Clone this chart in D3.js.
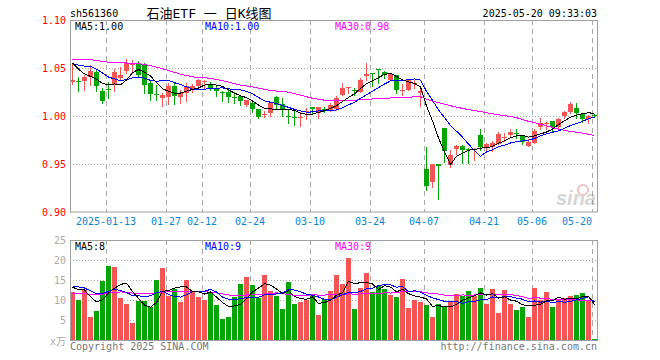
<!DOCTYPE html>
<html>
<head>
<meta charset="utf-8">
<script src="https://cdn.jsdelivr.net/npm/d3@7"></script>
<style>
body { margin: 0; background: #fff; }
svg text { font-family: "DejaVu Sans Mono", "Noto Sans CJK SC", monospace; font-size: 10px; }
</style>
</head>
<body>
<svg id="chart"></svg>
<script>
// Trading days shown (2025)
const dates = [
  '2025-01-03','2025-01-06','2025-01-07','2025-01-08','2025-01-09','2025-01-10','2025-01-13','2025-01-14',
  '2025-01-15','2025-01-16','2025-01-17','2025-01-20','2025-01-21','2025-01-22','2025-01-23','2025-01-24',
  '2025-01-27','2025-02-05','2025-02-06','2025-02-07','2025-02-10','2025-02-11','2025-02-12','2025-02-13',
  '2025-02-14','2025-02-17','2025-02-18','2025-02-19','2025-02-20','2025-02-21','2025-02-24','2025-02-25',
  '2025-02-26','2025-02-27','2025-02-28','2025-03-03','2025-03-04','2025-03-05','2025-03-06','2025-03-07',
  '2025-03-10','2025-03-11','2025-03-12','2025-03-13','2025-03-14','2025-03-17','2025-03-18','2025-03-19',
  '2025-03-20','2025-03-21','2025-03-24','2025-03-25','2025-03-26','2025-03-27','2025-03-28','2025-03-31',
  '2025-04-01','2025-04-02','2025-04-03','2025-04-07','2025-04-08','2025-04-09','2025-04-10','2025-04-11',
  '2025-04-14','2025-04-15','2025-04-16','2025-04-17','2025-04-18','2025-04-21','2025-04-22','2025-04-23',
  '2025-04-24','2025-04-25','2025-04-28','2025-04-29','2025-04-30','2025-05-06','2025-05-07','2025-05-08',
  '2025-05-09','2025-05-12','2025-05-13','2025-05-14','2025-05-15','2025-05-16','2025-05-19','2025-05-20'
];

const open = [
  1.035, 1.036, 1.036, 1.041, 1.046, 1.026, 1.028, 1.033, 1.040, 1.0465,
  1.053, 1.054, 1.0535, 1.034, 1.0225, 1.0187, 1.020, 1.0316, 1.020, 1.0237,
  1.0268, 1.0317, 1.036, 1.0334, 1.028, 1.0255, 1.025, 1.0199, 1.0206, 1.011,
  1.014, 1.0068, 1.002, 1.0031, 1.0203, 1.0128, 1.0005, 0.9988, 0.998, 1.0045,
  1.0095, 1.0032, 1.0068, 1.006, 1.0068, 1.0223, 1.030, 1.0267, 1.0252, 1.0413,
  1.0443, 1.0492, 1.0463, 1.0375, 1.043, 1.0268, 1.027, 1.0345, 1.0242, 0.945,
  0.931, 0.9498, 0.987, 0.9493, 0.9657, 0.9692, 0.966, 0.9655, 0.9797, 0.9662,
  0.968, 0.971, 0.978, 0.9802, 0.9826, 0.9792, 0.969, 0.9723, 0.989, 0.9922,
  0.9943, 0.9887, 0.9995, 1.004, 1.0088, 1.0019, 0.9964, 1.0012
];
const high = [
  1.055, 1.041, 1.043, 1.053, 1.048, 1.029, 1.035, 1.049, 1.051, 1.059,
  1.058, 1.057, 1.055, 1.036, 1.032, 1.024, 1.0345, 1.034, 1.027, 1.0344,
  1.033, 1.039, 1.038, 1.0355, 1.031, 1.026, 1.029, 1.0245, 1.0206, 1.0165,
  1.0145, 1.007, 1.005, 1.015, 1.0205, 1.0188, 1.0075, 1.007, 1.004, 1.0085,
  1.0096, 1.0096, 1.0095, 1.0135, 1.0205, 1.0345, 1.0302, 1.029, 1.0395, 1.0551,
  1.0446, 1.0493, 1.0465, 1.045, 1.043, 1.033, 1.039, 1.037, 1.031, 0.968,
  0.9505, 0.9502, 0.988, 0.9643, 0.970, 0.9694, 0.9662, 0.9668, 0.986, 0.972,
  0.9738, 0.9832, 0.9825, 0.9867, 0.986, 0.9795, 0.976, 0.9867, 0.9975, 0.9937,
  0.9945, 0.9983, 1.0052, 1.0141, 1.0134, 1.0035, 1.0007, 1.0017
];
const low = [
  1.033, 1.026, 1.027, 1.032, 1.026, 1.014, 1.019, 1.026, 1.038, 1.045,
  1.045, 1.041, 1.024, 1.017, 1.017, 1.010, 1.013, 1.013, 1.0135, 1.0153,
  1.025, 1.029, 1.029, 1.027, 1.0206, 1.0154, 1.0145, 1.0137, 1.011, 1.010,
  1.0037, 0.9976, 0.999, 1.0004, 1.007, 0.9995, 0.9928, 0.9903, 0.9895, 0.9969,
  1.002, 0.9975, 1.004, 1.005, 1.006, 1.0214, 1.024, 1.0223, 1.0245, 1.038,
  1.031, 1.0345, 1.0398, 1.037, 1.024, 1.0222, 1.027, 1.0293, 1.010, 0.923,
  0.926, 0.914, 0.9517, 0.9465, 0.9608, 0.951, 0.951, 0.9545, 0.965, 0.9635,
  0.9633, 0.9706, 0.9738, 0.978, 0.9773, 0.9713, 0.9685, 0.972, 0.986, 0.986,
  0.9843, 0.988, 0.9983, 1.0035, 0.9976, 0.9937, 0.9923, 0.9993
];
const close = [
  1.038, 1.035, 1.041, 1.047, 1.031, 1.016, 1.027, 1.046, 1.043, 1.055,
  1.055, 1.043, 1.032, 1.023, 1.022, 1.0216, 1.031, 1.021, 1.024, 1.0313,
  1.0313, 1.038, 1.0365, 1.029, 1.0258, 1.025, 1.0197, 1.0195, 1.0154, 1.0163,
  1.0071, 0.9985, 1.0023, 1.0135, 1.011, 1.0068, 1.000, 0.9985, 0.9986, 1.005,
  1.0076, 1.0095, 1.0066, 1.011, 1.019, 1.0294, 1.0302, 1.0264, 1.038, 1.0441,
  1.0441, 1.0476, 1.043, 1.0434, 1.0275, 1.027, 1.037, 1.0347, 1.026, 0.9267,
  0.9503, 0.948, 0.9633, 0.9595, 0.969, 0.965, 0.9656, 0.9658, 0.9675, 0.971,
  0.9718, 0.9817, 0.9783, 0.9831, 0.9824, 0.9734, 0.9732, 0.9841, 0.9932, 0.9925,
  0.9887, 0.9967, 1.004, 1.0125, 1.003, 0.9967, 1.0005, 1.0007
];
// volume, in 万 (10k) lots
const volume = [
  12.1, 10.0, 12.5, 5.8, 7.25, 14.75, 18.5, 18.3, 10.6, 9.0,
  4.3, 9.8, 9.75, 8.2, 15.0, 18.0, 11.0, 12.7, 9.6, 15.0,
  12.1, 10.8, 10.0, 12.1, 8.75, 5.25, 5.75, 10.75, 14.0, 15.75,
  13.75, 10.6, 16.25, 12.25, 11.0, 7.75, 14.5, 9.0, 9.5, 10.0,
  11.0, 6.25, 10.25, 12.25, 16.25, 14.0, 20.5, 7.75, 13.0, 16.75,
  12.0, 13.5, 12.7, 11.25, 10.75, 15.25, 8.0, 10.0, 9.5, 8.75,
  5.75, 9.0, 8.5, 9.5, 11.5, 11.0, 12.25, 11.0, 13.0, 9.0,
  12.75, 6.75, 12.5, 9.0, 7.5, 8.25, 5.75, 13.0, 10.0, 12.0,
  8.25, 10.25, 10.5, 11.0, 11.25, 11.75, 10.0, 0.25
];
// the 29 sessions before the window, only needed so the moving averages start where they do
const prevCloses = [
  1.044, 1.046, 1.047, 1.047, 1.050, 1.052, 1.054, 1.056, 1.059, 1.058,
  1.060, 1.061, 1.060, 1.062, 1.078, 1.082, 1.080, 1.078, 1.076, 1.075,
  1.051, 1.050, 1.050, 1.059, 1.058, 1.068, 1.066, 1.060, 1.045
];
const prevVolumes = [
  9.5, 11.0, 10.0, 12.5, 9.0, 10.5, 11.5, 8.5, 10.0, 12.0,
  10.5, 9.5, 11.0, 10.0, 11.5, 9.0, 12.0, 10.5, 11.0, 10.5,
  12.5, 15.0, 13.0, 14.5, 14.0, 13.0, 13.0, 14.3, 13.6
];

const tickDates = ['2025-01-13','2025-01-27','2025-02-12','2025-02-24','2025-03-10',
                   '2025-03-24','2025-04-07','2025-04-21','2025-05-06','2025-05-20'];
const priceTicks = [0.90, 0.95, 1.00, 1.05, 1.10];
const volTicks = [5, 10, 15, 20, 25];

// Colours
const UP = '#f55555';
const DOWN = '#05a505';
const MA_COLORS = {5: '#000', 10: '#00f', 30: '#f0f'};
const FRAME = '#a0a0a0';
const GRID = '#aaa';

// Layout
const W = 660, H = 360;
const LEFT = 70, RIGHT = 597;
const P_TOP = 20, P_BOT = 212;
const V_TOP = 240, V_BOT = 340;

const svg = d3.select('svg#chart').attr('width', W).attr('height', H);

const x = d3.scaleBand().domain(dates).range([LEFT, LEFT + dates.length * 6]);
const bw = x.bandwidth() - 1;       // 5px body, 1px gap
const cx = d => x(d) + bw / 2;

const y = d3.scaleLinear().domain([0.90, 1.10]).range([P_BOT, P_TOP]);
const yv = d3.scaleLinear().domain([0, 25]).range([V_BOT, V_TOP]);

const rows = dates.map((d, i) => ({
    date: d, o: open[i], h: high[i], l: low[i], c: close[i], v: volume[i],
    up: close[i] >= open[i]
}));

function movingAvg(series, prev, n) {
    const all = prev.concat(series);
    return series.map((_, i) => d3.mean(all.slice(prev.length + i - n + 1, prev.length + i + 1)));
}

const periods = [5, 10, 30];
const priceMA = {}, volMA = {};
periods.forEach(n => {
    priceMA[n] = movingAvg(close, prevCloses, n);
    volMA[n] = movingAvg(volume, prevVolumes, n);
});

// ---- grid ----
const grid = svg.append('g');
// horizontal dotted lines
grid.selectAll('line.hp').data(priceTicks.slice(1, -1)).enter().append('line')
    .attr('x1', LEFT).attr('x2', RIGHT)
    .attr('y1', d => Math.round(y(d)) + 0.5).attr('y2', d => Math.round(y(d)) + 0.5)
    .attr('stroke', GRID).attr('stroke-dasharray', '1,2');
grid.selectAll('line.hv').data(volTicks.slice(0, -1)).enter().append('line')
    .attr('x1', LEFT).attr('x2', RIGHT)
    .attr('y1', d => Math.round(yv(d)) + 0.5).attr('y2', d => Math.round(yv(d)) + 0.5)
    .attr('stroke', GRID).attr('stroke-dasharray', '1,2');
// vertical dashed lines, both panels
[[P_TOP, P_BOT], [V_TOP, V_BOT]].forEach(([t, b]) => {
    grid.append('g').selectAll('line').data(tickDates).enter().append('line')
        .attr('x1', d => x(d) + 0.5).attr('x2', d => x(d) + 0.5)
        .attr('y1', t).attr('y2', b)
        .attr('stroke', GRID).attr('stroke-dasharray', '5,4');
});

// ---- candles ----
const candle = svg.append('g').selectAll('g').data(rows).enter().append('g');
candle.append('line')
    .attr('x1', d => cx(d.date)).attr('x2', d => cx(d.date))
    .attr('y1', d => Math.round(y(d.h))).attr('y2', d => Math.round(y(d.l)) + 1)
    .attr('stroke', d => d.up ? UP : DOWN);
candle.append('rect')
    .attr('x', d => x(d.date)).attr('width', bw)
    .attr('y', d => Math.round(y(Math.max(d.o, d.c))))
    .attr('height', d => Math.max(1, Math.round(y(Math.min(d.o, d.c))) - Math.round(y(Math.max(d.o, d.c)))))
    .attr('fill', d => d.up ? UP : DOWN);

// ---- volume bars ----
svg.append('g').selectAll('rect').data(rows).enter().append('rect')
    .attr('x', d => x(d.date)).attr('width', bw)
    .attr('y', d => Math.round(yv(d.v)))
    .attr('height', d => V_BOT - Math.round(yv(d.v)))
    .attr('fill', d => d.up ? UP : DOWN);

// ---- moving average lines ----
const priceLine = d3.line().x((v, i) => cx(dates[i])).y(v => y(v));
const volLine = d3.line().x((v, i) => cx(dates[i])).y(v => yv(v));
periods.slice().reverse().forEach(n => {
    svg.append('path').attr('d', priceLine(priceMA[n]))
        .attr('fill', 'none').attr('stroke', MA_COLORS[n]).attr('stroke-width', 1)
        .attr('shape-rendering', 'crispEdges');
    svg.append('path').attr('d', volLine(volMA[n]))
        .attr('fill', 'none').attr('stroke', MA_COLORS[n]).attr('stroke-width', 1)
        .attr('shape-rendering', 'crispEdges');
});

// ---- frames ----
svg.append('rect').attr('x', LEFT + 0.5).attr('y', P_TOP + 0.5)
    .attr('width', RIGHT - LEFT).attr('height', P_BOT - P_TOP - 0.5)
    .attr('fill', 'none').attr('stroke', FRAME);
svg.append('rect').attr('x', LEFT + 0.5).attr('y', V_TOP + 0.5)
    .attr('width', RIGHT - LEFT).attr('height', V_BOT - V_TOP)
    .attr('fill', 'none').attr('stroke', FRAME);

// ---- axes ----
const fontFix = g => g.attr('font-family', null).attr('font-size', null);

svg.append('g').attr('transform', `translate(${LEFT},0)`)
    .call(d3.axisLeft(y).tickValues(priceTicks).tickFormat(d3.format('.2f')).tickSize(0).tickPadding(4))
    .call(fontFix)
    .call(g => g.select('.domain').remove())
    .selectAll('text').attr('fill', '#f00');

svg.append('g').attr('transform', `translate(${LEFT},0)`)
    .call(d3.axisLeft(yv).tickValues(volTicks).tickSize(0).tickPadding(4))
    .call(fontFix)
    .call(g => g.select('.domain').remove())
    .selectAll('text').attr('fill', '#aaa');

// date labels centred on the grid lines (slot left edge)
const xLab = x.copy().range([LEFT - 3, LEFT - 3 + dates.length * 6]);
const xAxisG = svg.append('g').attr('transform', `translate(0,${P_BOT + 6})`)
    .call(d3.axisBottom(xLab).tickValues(tickDates)
        .tickFormat((d, i) => i === 0 ? d : d.slice(5)).tickSize(0).tickPadding(0))
    .call(fontFix)
    .call(g => g.select('.domain').remove());
xAxisG.selectAll('text').attr('fill', '#0b84d6');
xAxisG.selectAll('.tick').filter(d => d === tickDates[tickDates.length - 1])
    .select('text').attr('text-anchor', 'end');

// ---- header texts ----
svg.append('text').attr('x', LEFT).attr('y', 17).text('sh561360');
svg.append('text').attr('x', 209).attr('y', 18).attr('text-anchor', 'middle')
    .style('font-size', '13px').text('石油ETF 一 日K线图');
svg.append('text').attr('x', RIGHT).attr('y', 17).attr('text-anchor', 'end').text('2025-05-20 09:33:03');

const last = arr => arr[arr.length - 1];
const legendX = {5: 75, 10: 205, 30: 335};
periods.forEach(n => {
    svg.append('text').attr('x', legendX[n]).attr('y', 29.5).attr('fill', MA_COLORS[n])
        .text(`MA${n}:${last(priceMA[n]).toFixed(2)}`);
    svg.append('text').attr('x', legendX[n]).attr('y', 250).attr('fill', MA_COLORS[n])
        .text(`MA${n}:${Math.floor(last(volMA[n]))}`);
});

svg.append('text').attr('x', 66).attr('y', 345).attr('text-anchor', 'end').attr('fill', '#aaa').text('x万');
svg.append('text').attr('x', LEFT).attr('y', 349.5).attr('fill', '#777').text('Copyright 2025 SINA.COM');
svg.append('text').attr('x', RIGHT).attr('y', 349.5).attr('text-anchor', 'end').attr('fill', '#777')
    .text('http://finance.sina.com.cn');

// sina watermark
const wm = svg.append('g').attr('opacity', 0.35);
wm.append('circle').attr('cx', 583).attr('cy', 190).attr('r', 5)
    .attr('fill', 'none').attr('stroke', '#e05050').attr('stroke-width', 2);
wm.append('text').attr('x', 596).attr('y', 205).attr('text-anchor', 'end')
    .style('font-family', 'Liberation Sans, sans-serif').style('font-size', '20px')
    .style('font-style', 'italic').style('font-weight', 'bold').attr('fill', '#888').text('sina');
</script>
</body>
</html>
